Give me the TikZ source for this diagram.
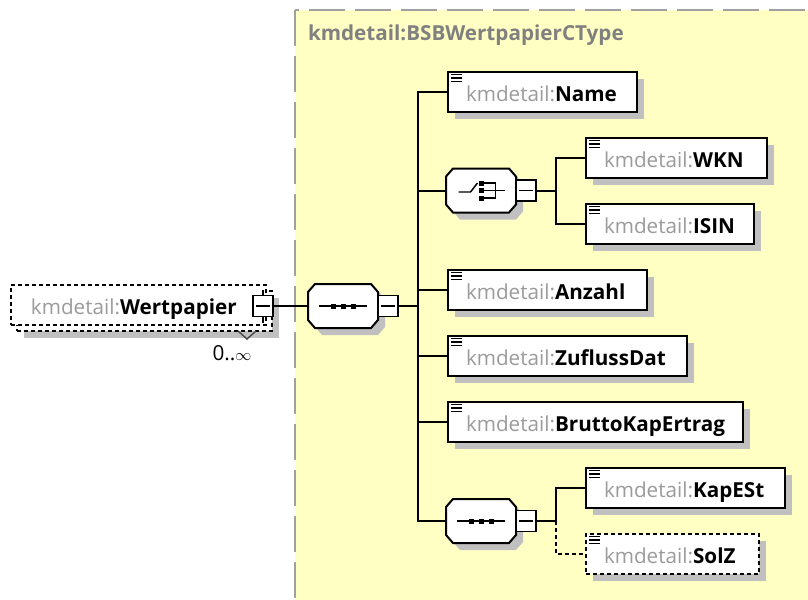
\documentclass[tikz,border=0pt]{standalone}
\usepackage{fontspec}
\setmainfont{Open Sans}
\usetikzlibrary{calc,shadows}

\definecolor{typefill}{RGB}{255,255,196}
\definecolor{typeline}{RGB}{160,160,160}
\definecolor{prefixgray}{RGB}{155,155,155}
\definecolor{titlegray}{RGB}{128,128,128}
\definecolor{shadowgray}{RGB}{192,192,192}

\newcommand{\kmel}[2][13.5pt]{\hspace*{#1}\textcolor{prefixgray}{kmdetail:}\textbf{#2}}

\tikzset{every picture/.style={line width=1.5pt}}
\tikzset{
  elembox/.style={draw, fill=white, anchor=west, minimum height=30pt, inner xsep=0pt, inner ysep=0pt,
    text width=#1, align=left, text height=13.5pt, text depth=0pt},
  shadowed/.style={drop shadow={shadow xshift=5.25pt, shadow yshift=-5.25pt, fill=shadowgray, opacity=1}},
  elem/.style={elembox=#1, shadowed},
  optional/.style={dash pattern=on 3pt off 2.25pt},
  octa/.style={minimum width=51pt, minimum height=31.5pt, inner sep=0pt},
  minusbox/.style={draw, fill=white, minimum width=15pt, minimum height=15.75pt, inner sep=0pt, line width=1.2pt},
  iconline/.style={line width=1.1pt},
}

\begin{document}
\begin{tikzpicture}[x=0.75pt,y=0.75pt,yscale=-1,every node/.style={font=\fontsize{15.5pt}{19pt}\selectfont}]
\useasboundingbox (0,0) rectangle (808,600);

%Shape: Rectangle (complex type)
\draw [fill=typefill, draw=typeline, dash pattern=on 27pt off 7.5pt] (295,10) rectangle (840,640);
% Text Node
\node [anchor=west, text=titlegray, inner sep=0pt, font=\fontsize{15.5pt}{19pt}\selectfont\bfseries] (title) at (307,35) {kmdetail:BSBWertpapierCType};

%Shape: repeated element
\node [elem=191.25pt, optional] (wpback) at (16,311) {};
\node [elembox=191.25pt, optional] (wp) at (10,305) {\kmel[15pt]{Wertpapier}};
\node [minusbox] (wpminus) at (263,306) {};
\draw [iconline] (wpminus.north) -- ++(0,-5);
\draw [iconline] (wpminus.south) -- ++(0,6);
\draw [iconline, draw=black!70] (238,331) -- (247,339) -- (256,331);
% Text Node
\node (occurs) at (232,353) {0..{\fontsize{13pt}{15pt}\selectfont$\infty$}};

%Shape: compositors
\node [octa] (seq) at (343,306) {};
\node [octa] (choice) at (481,190.5) {};
\node [octa] (seqb) at (481,521) {};
\foreach \o in {seq,choice,seqb}
  \draw [fill=white, shadowed] ($(\o.north west)+(7,0)$) -- ($(\o.north east)+(-7,0)$) -- ($(\o.north east)+(0,8)$)
    -- ($(\o.south east)+(0,-8)$) -- ($(\o.south east)+(-7,0)$) -- ($(\o.south west)+(7,0)$)
    -- ($(\o.south west)+(0,-8)$) -- ($(\o.north west)+(0,8)$) -- cycle;
% sequence icons
\foreach \o in {seq,seqb}{
  \draw [iconline] ($(\o)+(-24,0)$) -- ($(\o)+(24,0)$);
  \foreach \dx in {-10,0,10} \fill ($(\o)+(\dx,0)$) +(-2.5,-2.5) rectangle +(2.5,2.5);
}
% choice icon
\draw [iconline] ($(choice)+(-22.5,1.5)$) -- ($(choice)+(-10.5,1.5)$) -- ($(choice)+(-3.5,-7.5)$);
\foreach \dy in {-7.5,0,7.5} \fill ($(choice)+(0,\dy)$) +(-2.5,-2.5) rectangle +(2.5,2.5);
\draw [iconline] ($(choice)+(2.5,-7.5)$) -- ($(choice)+(14.5,-7.5)$) -- ($(choice)+(14.5,7.5)$) -- ($(choice)+(2.5,7.5)$);
\draw [iconline] ($(choice)+(2.5,0)$) -- ($(choice)+(23.5,0)$);

\node [minusbox] (seqminus) at (388,306) {};
\node [minusbox] (choiceminus) at (526,190.5) {};
\node [minusbox] (seqbminus) at (526,521) {};
\foreach \m in {wpminus,seqminus,choiceminus,seqbminus}
  \draw [iconline] ($(\m.west)+(4,0)$) -- ($(\m.east)+(-4,0)$);

%Shape: elements
\node [elem=141.75pt] (name) at (447,92) {\kmel{Name}};
\node [elem=135.75pt] (wkn) at (585,158) {\kmel{WKN}};
\node [elem=126pt] (isin) at (585,224) {\kmel{ISIN}};
\node [elem=149.25pt] (anzahl) at (447,290) {\kmel{Anzahl}};
\node [elem=179.25pt] (zufluss) at (447,356) {\kmel{ZuflussDat}};
\node [elem=221.25pt] (brutto) at (447,422) {\kmel{BruttoKapErtrag}};
\node [elem=149.25pt] (kapest) at (585,488) {\kmel{KapESt}};
\node [elem=129.75pt, optional] (solz) at (585,554) {\kmel{SolZ}};
\foreach \n in {name,wkn,isin,anzahl,zufluss,brutto,kapest,solz}
  \foreach \d in {3.5,7,10.5}
    \draw [line width=1pt] ($(\n.north west)+(4,\d)$) -- ++(11,0);

%Straight Lines
\coordinate (t1) at (418,306);
\coordinate (t2) at (556,190.5);
\coordinate (t3) at (556,521);
\draw (wpminus.east) -- (seq.west);
\draw (seqminus.east) -- (t1);
\foreach \n in {name,choice,anzahl,zufluss,brutto,seqb}
  \draw (t1) |- (\n.west);
\draw (choiceminus.east) -- (t2);
\foreach \n in {wkn,isin}
  \draw (t2) |- (\n.west);
\draw (seqbminus.east) -- (t3) |- (kapest.west);
\draw [optional] (t3) |- (solz.west);

\end{tikzpicture}
\end{document}
